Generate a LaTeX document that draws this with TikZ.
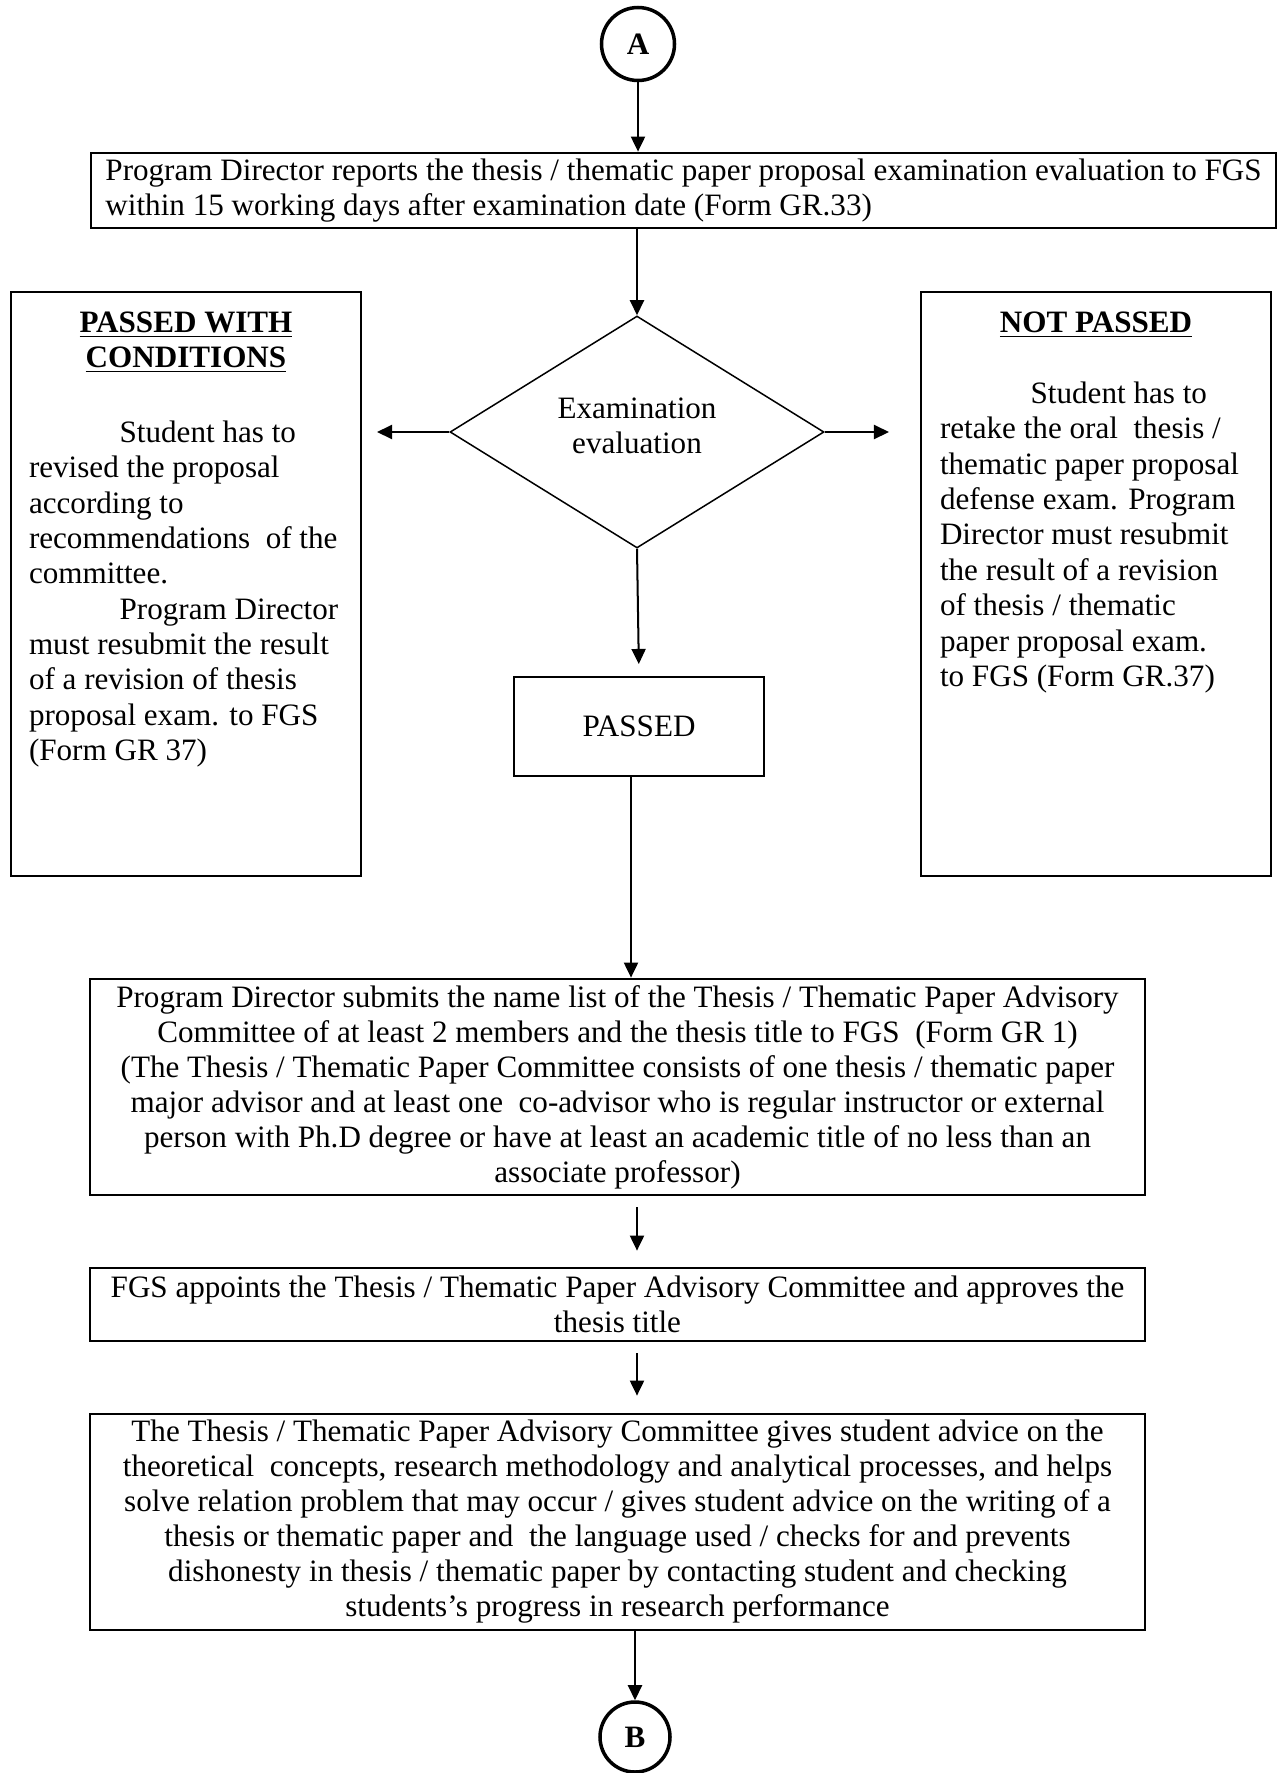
\documentclass[tikz,border=0pt]{standalone}
\usepackage{fontspec}
\setmainfont{Liberation Serif}
\usepackage{tikz}
\usetikzlibrary{shapes.geometric, arrows.meta, positioning}
\newlength{\pxu}
\setlength{\pxu}{0.014cm}

\begin{document}
\begin{tikzpicture}[x=0.014cm, y=-0.014cm,
    font=\fontsize{12.4pt}{13.95pt}\selectfont,
    procbox/.style={draw, rectangle, line width=1.1pt, inner sep=0pt},
    sidebox/.style={draw, rectangle, line width=0.8pt, inner sep=0pt},
    decision/.style={draw, diamond, line width=0.6pt, inner sep=0pt, align=center},
    joint/.style={draw, circle, line width=1.4pt, inner sep=0pt,
        font=\fontsize{12.4pt}{13.95pt}\selectfont\bfseries},
    flow/.style={-{Triangle[length=6pt, width=5.6pt]}, line width=0.8pt}]
        \useasboundingbox (0,0) rectangle (1279,1773);

        \node[joint, minimum size=73*\pxu] (A) at (638,44) {A};
        \node[procbox, align=left, minimum width=1185*\pxu, minimum height=75*\pxu] (report) at (683.5,190.5)
            {Program Director reports the thesis / thematic paper proposal examination evaluation to FGS\\
            within 15 working days after examination date (Form GR.33)};
        \node[decision, minimum width=374*\pxu, minimum height=232*\pxu] (eval) at (637,432)
            {Examination\\evaluation\\[-9pt]\mbox{}};
        \node[sidebox, font=\fontsize{12.4pt}{14.1pt}\selectfont, minimum width=350*\pxu, minimum height=584*\pxu] (cond) at (186,584)
            {\parbox[c][544\pxu][t]{314\pxu}{%
            {\centering\bfseries\underline{PASSED WITH}\\\underline{CONDITIONS}\par}
            \vspace{1.1\baselineskip}
            \hspace*{0.5in}Student has to\\
            revised the proposal\\
            according to\\
            recommendations\ \ of the\\
            committee.\\
            \hspace*{0.5in}Program Director\\
            must resubmit the result\\
            of a revision of thesis\\
            proposal exam. to FGS\\
            (Form GR 37)}};
        \node[sidebox, font=\fontsize{12.4pt}{14.1pt}\selectfont, minimum width=350*\pxu, minimum height=584*\pxu] (notpass) at (1096,584)
            {\parbox[c][544\pxu][t]{312\pxu}{%
            {\centering\bfseries\underline{NOT PASSED}\par}
            \vspace{\baselineskip}
            \hspace*{0.5in}Student has to\\
            retake the oral\ \ thesis /\\
            thematic paper proposal\\
            defense exam. Program\\
            Director must resubmit\\
            the result of a revision\\
            of thesis / thematic\\
            paper proposal exam.\\
            to FGS (Form GR.37)}};
        \node[sidebox, minimum width=250*\pxu, minimum height=99*\pxu] (passed) at (639,726.5) {PASSED};
        \node[procbox, align=center, minimum width=1055*\pxu, minimum height=216*\pxu] (submit) at (617.5,1087)
            {Program Director submits the name list of the Thesis / Thematic Paper Advisory\\
            Committee of at least 2 members and the thesis title to FGS\ \ (Form GR 1)\\
            (The Thesis / Thematic Paper Committee consists of one thesis / thematic paper\\
            major advisor and at least one\ \ co-advisor who is regular instructor or external\\
            person with Ph.D degree or have at least an academic title of no less than an\\
            associate professor)};
        \node[procbox, align=center, minimum width=1055*\pxu, minimum height=73*\pxu] (appoint) at (617.5,1304.5)
            {FGS appoints the Thesis / Thematic Paper Advisory Committee and approves the\\
            thesis title};
        \node[procbox, align=center, minimum width=1055*\pxu, minimum height=216*\pxu] (advice) at (617.5,1522)
            {The Thesis / Thematic Paper Advisory Committee gives student advice on the\\
            theoretical\ \ concepts, research methodology and analytical processes, and helps\\
            solve relation problem that may occur / gives student advice on the writing of a\\
            thesis or thematic paper and\ \ the language used / checks for and prevents\\
            dishonesty in thesis / thematic paper by contacting student and checking\\
            students's progress in research performance};
        \node[joint, minimum size=70*\pxu] (B) at (635,1737) {B};

        \draw[flow] (A) -- (A |- report.north);
        \draw[flow] (eval.north |- report.south) -- (eval.north);
        \draw[flow, shorten >=15*\pxu] (eval.west) -- (eval.west -| cond.east);
        \draw[flow, shorten >=31*\pxu] (eval.east) -- (eval.east -| notpass.west);
        \draw[flow, shorten >=12*\pxu] (eval.south) -- (passed.north);
        \draw[flow] ([xshift=-8*\pxu]passed.south) -- ([xshift=-8*\pxu]passed.south |- submit.north);
        \draw[flow, shorten <=11*\pxu, shorten >=16*\pxu] (eval |- submit.south) -- (eval |- appoint.north);
        \draw[flow, shorten <=11*\pxu, shorten >=17*\pxu] (eval |- appoint.south) -- (eval |- advice.north);
        \draw[flow] (B |- advice.south) -- (B);
    \end{tikzpicture}
\end{document}
